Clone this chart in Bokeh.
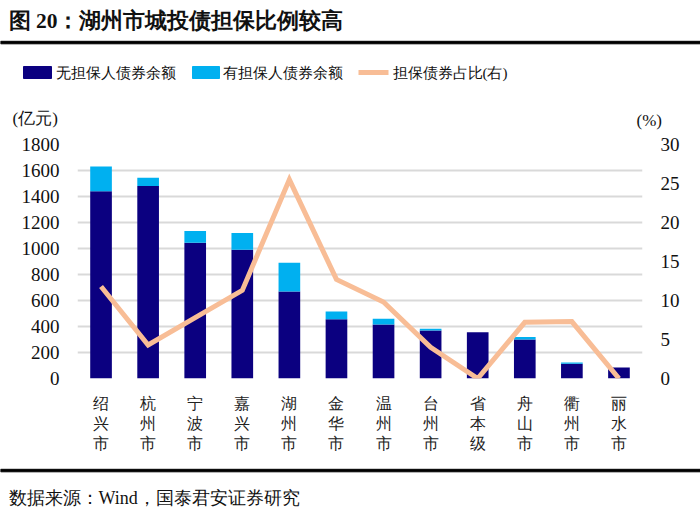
from bokeh.plotting import figure
from bokeh.layouts import column
from bokeh.models import (Range1d, LinearAxis, CategoricalAxis, FactorRange,
                          ColumnDataSource, FixedTicker, CustomJSTickFormatter)
from bokeh.core.properties import value
from bokeh.embed import file_html
from bokeh.resources import INLINE

cities = ["绍兴市", "杭州市", "宁波市", "嘉兴市", "湖州市", "金华市",
          "温州市", "台州市", "省本级", "舟山市", "衢州市", "丽水市"]
unguaranteed = [1440, 1480, 1045, 990, 670, 455, 415, 370, 355, 300, 113, 85]
guaranteed = [190, 65, 90, 130, 220, 60, 45, 13, 0, 20, 10, 0]
ratio = [11.8, 4.3, 7.8, 11.3, 25.5, 12.7, 9.8, 4.0, 0.0, 7.2, 7.3, 0.0]
left_ticks = [0, 200, 400, 600, 800, 1000, 1200, 1400, 1600, 1800]
right_ticks = [0, 5, 10, 15, 20, 25, 30]

title_text = "图 20：湖州市城投债担保比例较高"
source_text = "数据来源：Wind，国泰君安证券研究"
legend_labels = ["无担保人债券余额", "有担保人债券余额", "担保债券占比(右)"]
left_unit = "(亿元)"
right_unit = "(%)"

FONT = "Liberation Serif"
DARK = "#0B0080"
LIGHT = "#00B0F0"
LINE = "#F8BD96"
TXT = "#111111"

W = 700
TOP_H, MAIN_H, BOT_H = 134, 326, 62


def bare(h):
    f = figure(width=W, height=h, x_range=Range1d(0, W), y_range=Range1d(h, 0),
               x_axis_type=None, y_axis_type=None, output_backend="svg",
               toolbar_location=None, min_border=0, min_border_left=0,
               min_border_right=0, min_border_top=0, min_border_bottom=0)
    f.outline_line_color = None
    f.frame_align = False
    return f


def txt(f, x, y, s, size, bold=False):
    f.text(x=[x], y=[y], text=[s], text_font=value(FONT), text_font_size=size,
           text_font_style="bold" if bold else "normal", text_baseline="middle",
           text_color=TXT)


# ---------- top: title, rule, legend, units ----------
top = bare(TOP_H)
txt(top, 8, 20, title_text, "21.5px", bold=True)
top.quad(left=[0], right=[W], top=[40.8], bottom=[43.3], color="black")
# legend keys
top.quad(left=[23, 192], right=[51, 219], top=[66, 66], bottom=[78, 78],
         color=[DARK, LIGHT])
top.segment(x0=[358], y0=[72], x1=[388], y1=[72], line_color=LINE, line_width=5)
for x, s in zip([55, 222, 392], legend_labels):
    txt(top, x, 72, s, "15px")
txt(top, 12, 118, left_unit, "17px")
txt(top, 636, 120, right_unit, "17px")

# ---------- main chart ----------
src = ColumnDataSource(dict(city=cities, ung=unguaranteed, gua=guaranteed, ratio=ratio))
p = figure(width=W, height=MAIN_H, x_range=FactorRange(*cities, range_padding=0),
           y_range=Range1d(0, 1800), output_backend="svg", toolbar_location=None,
           min_border_left=77, min_border_right=58, min_border_top=10,
           min_border_bottom=82)
p.frame_align = False
p.extra_y_ranges = {"pct": Range1d(0, 30)}
p.outline_line_color = None

bars = p.vbar_stack(["ung", "gua"], x="city", width=0.46, source=src,
                    color=[DARK, LIGHT], line_color=None)
ln = p.line(x="city", y="ratio", source=src, y_range_name="pct",
            line_color=LINE, line_width=5, line_join="miter")

p.xgrid.grid_line_color = None
p.ygrid.grid_line_color = "#D9D9D9"
p.ygrid.grid_line_width = 2
p.yaxis.ticker = FixedTicker(ticks=left_ticks)

ra = LinearAxis(y_range_name="pct", ticker=FixedTicker(ticks=right_ticks))
p.add_layout(ra, "right")

for ax in [p.yaxis[0], ra]:
    ax.axis_line_color = None
    ax.major_tick_line_color = None
    ax.minor_tick_line_color = None
    ax.major_tick_out = 0
    ax.major_tick_in = 0
    ax.major_label_text_font = FONT
    ax.major_label_text_font_size = "19px"
    ax.major_label_text_color = TXT
    ax.major_label_standoff = 18

xa1 = p.xaxis[0]
xa2 = CategoricalAxis()
xa3 = CategoricalAxis()
p.add_layout(xa2, "below")
p.add_layout(xa3, "below")
for i, (ax, so) in enumerate([(xa1, 16), (xa2, 0), (xa3, 0)]):
    ax.axis_line_color = None
    ax.major_tick_line_color = None
    ax.minor_tick_line_color = None
    ax.major_tick_out = 0
    ax.major_tick_in = 0
    ax.major_label_text_font = FONT
    ax.major_label_text_font_size = "16px"
    ax.major_label_text_color = "#222222"
    ax.major_label_standoff = so
    ax.formatter = CustomJSTickFormatter(code=f"return String(tick).charAt({i});")

# ---------- bottom: rule, source ----------
bot = bare(BOT_H)
bot.quad(left=[0], right=[W], top=[8.8], bottom=[11.3], color="black")
txt(bot, 8, 37, source_text, "18px")

layout = column(top, p, bot, spacing=0)
open("out.html", "w").write(file_html(layout, INLINE))
